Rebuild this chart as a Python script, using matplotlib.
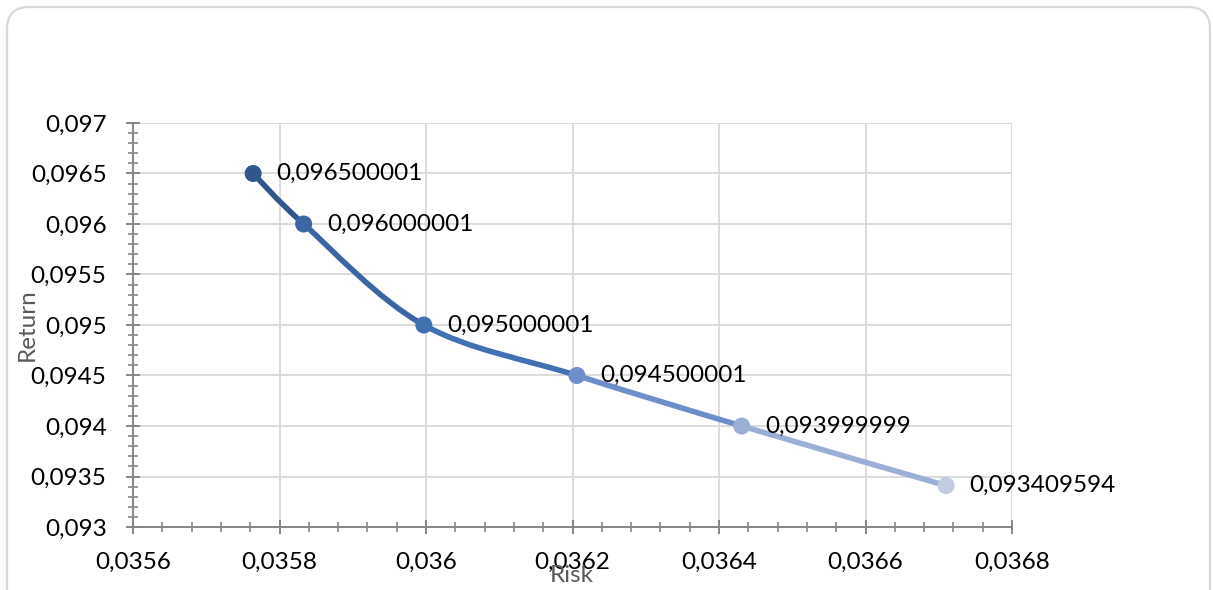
import numpy as np
import matplotlib.pyplot as plt
from matplotlib.path import Path
from matplotlib.patches import PathPatch, FancyBboxPatch
from matplotlib.ticker import MultipleLocator, FuncFormatter

# data
risk = [0.035764, 0.035833, 0.035997, 0.036206, 0.036431, 0.036710]
ret = [0.096500001, 0.096000001, 0.095000001, 0.094500001, 0.093999999, 0.093409594]
point_labels = ["0,096500001", "0,096000001", "0,095000001",
                "0,094500001", "0,093999999", "0,093409594"]
point_colors = ["#30568c", "#3b65a3", "#4170b3", "#6d8ec9", "#9aafd6", "#c1cce3"]

plt.rcParams['font.family'] = ['Lato', 'DejaVu Sans']
FS = 17.5

fig = plt.figure(figsize=(12.13, 5.90), dpi=100)
ax = fig.add_axes([133 / 1213, 1 - 527 / 590, (1012 - 133) / 1213, (527 - 123) / 590])

# rounded chart border
border = FancyBboxPatch((0.07, -0.3), 12.03, 6.13,
                        boxstyle="round,pad=0,rounding_size=0.22",
                        transform=fig.dpi_scale_trans, facecolor="none",
                        edgecolor="#d9d9d9", linewidth=1.6, zorder=0)
fig.patches.append(border)

# smoothed line (Excel-like bezier through the points), one colour per segment
pts = np.column_stack([risk, ret])
n = len(pts)
for i in range(n - 1):
    p0 = pts[max(i - 1, 0)]
    p1 = pts[i]
    p2 = pts[i + 1]
    p3 = pts[min(i + 2, n - 1)]
    c1 = p1 + (p2 - p0) / 6
    c2 = p2 - (p3 - p1) / 6
    path = Path([p1, c1, c2, p2], [Path.MOVETO, Path.CURVE4, Path.CURVE4, Path.CURVE4])
    ax.add_patch(PathPatch(path, facecolor="none", edgecolor=point_colors[i],
                           linewidth=4, capstyle="round", zorder=3))

ax.scatter(risk, ret, s=150, c=point_colors, zorder=4, linewidths=0)

for x, y, lab in zip(risk, ret, point_labels):
    ax.annotate(lab, (x, y), xytext=(17, 0), textcoords="offset points",
                va="center", ha="left", fontsize=FS, color="#000000", zorder=5)

ax.set_xlim(0.0356, 0.0368)
ax.set_ylim(0.093, 0.097)
ax.xaxis.set_major_locator(MultipleLocator(0.0002))
ax.xaxis.set_minor_locator(MultipleLocator(0.00004))
ax.yaxis.set_major_locator(MultipleLocator(0.0005))
ax.yaxis.set_minor_locator(MultipleLocator(0.0001))

def comma_fmt(v, pos):
    s = f"{v:.4f}".rstrip("0").rstrip(".")
    return s.replace(".", ",")

ax.xaxis.set_major_formatter(FuncFormatter(comma_fmt))
ax.yaxis.set_major_formatter(FuncFormatter(comma_fmt))

ax.grid(True, which="major", color="#d9d9d9", linewidth=1.3)
ax.set_axisbelow(True)
for s in ["top", "right"]:
    ax.spines[s].set_visible(False)
for s in ["left", "bottom"]:
    ax.spines[s].set_color("#868686")
    ax.spines[s].set_linewidth(1.4)

ax.tick_params(which="major", direction="inout", length=10, width=1.4,
               color="#868686", labelsize=FS, labelcolor="#000000")
ax.tick_params(which="minor", direction="inout", length=7, width=1.2, color="#868686")
ax.tick_params(axis="x", which="major", pad=13)
ax.tick_params(axis="y", which="major", pad=14)

ax.set_xlabel("Risk", fontsize=FS, color="#595959")
ax.set_ylabel("Return", fontsize=FS, color="#595959")
ax.xaxis.set_label_coords((572 - 133) / (1012 - 133), -(565 - 527) / (527 - 123))
ax.yaxis.set_label_coords(-(133 - 38) / (1012 - 133), (527 - 325) / (527 - 123))

fig.savefig("out.png", dpi=100)
